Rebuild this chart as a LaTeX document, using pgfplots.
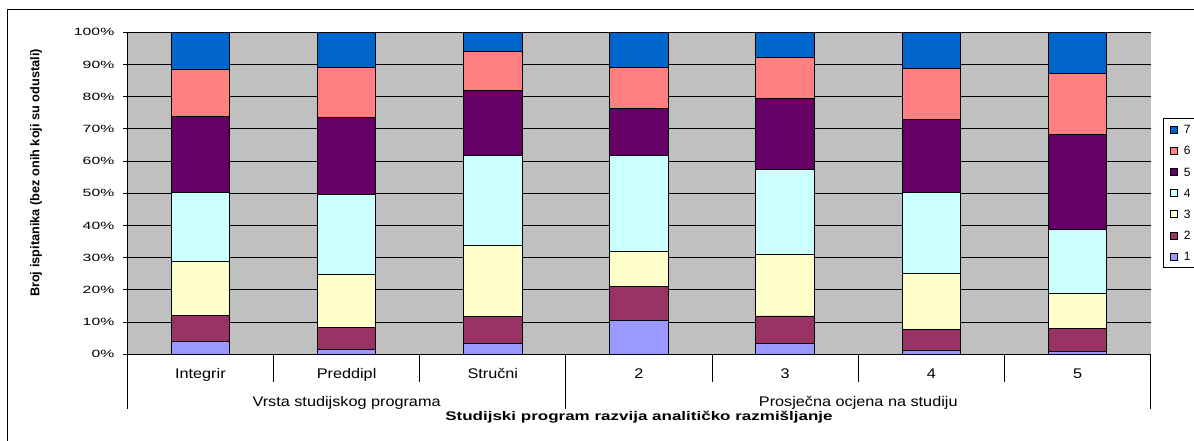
\documentclass[border=0pt]{standalone}
\usepackage{pgfplots}
\pgfplotsset{compat=1.18}
\usepackage{pgfplotstable}
\usepackage{fontspec}
\setmainfont{Liberation Sans}
\newfontfamily\tickfont[FakeStretch=1.5]{Liberation Sans}
\newfontfamily\catfont[FakeStretch=1.16]{Liberation Sans}
\newfontfamily\titlefont[FakeStretch=1.36]{Liberation Sans}
\definecolor{c1}{HTML}{9999FF}
\definecolor{c2}{HTML}{993366}
\definecolor{c3}{HTML}{FFFFCC}
\definecolor{c4}{HTML}{CCFFFF}
\definecolor{c5}{HTML}{660066}
\definecolor{c6}{HTML}{FF8080}
\definecolor{c7}{HTML}{0066CC}
\definecolor{bg}{HTML}{C0C0C0}

\pgfplotstableread{
x s1 s2 s3 s4 s5 s6 s7
0 4.0 8.1 16.7 21.5 23.6 14.6 11.5
1 1.5 6.9 16.3 25.0 23.9 15.5 10.9
2 3.4 8.4 21.9 27.9 20.4 11.9 6.1
3 10.6 10.6 10.7 29.7 14.8 12.7 10.9
4 3.4 8.5 19.2 26.4 22.0 12.8 7.7
5 1.1 6.5 17.5 25.2 22.7 15.8 11.2
6 0.8 7.3 10.9 19.8 29.5 19.0 12.7
}\datatable

\begin{document}
\begin{tikzpicture}[x=1pt,y=1pt]
\path[use as bounding box] (0,0) rectangle (1194,441);
\draw[line width=1pt] (7.3,-5) -- (7.3,431) -- (1200,431);
\begin{axis}[
  at={(127.3pt,86.7pt)}, anchor=south west,
  scale only axis, width=1023.4pt, height=322pt,
  ybar stacked, bar width=0.4,
  xmin=-0.5, xmax=6.5, ymin=0, ymax=100,
  clip=false,
  axis background/.style={fill=bg},
  axis x line*=bottom, axis y line*=left,
  x axis line style={-, line width=0.9pt},
  y axis line style={-, line width=0.9pt},
  xtick={0,...,6},
  xticklabels={Integrir,Preddipl,Stručni,2,3,4,5},
  xtick style={draw=none},
  xticklabel style={anchor=base, yshift=-19.5pt, font=\catfont\fontsize{14}{16}\selectfont},
  ytick={0,10,...,100},
  yticklabels={0\%,10\%,20\%,30\%,40\%,50\%,60\%,70\%,80\%,90\%,100\%},
  yticklabel style={font=\tickfont\fontsize{10.5}{12}\selectfont, xshift=-5pt},
  tick align=outside, major tick length=4.5pt,
  ytick style={black, line width=0.9pt},
  ymajorgrids, major grid style={black, line width=0.8pt},
  xlabel={Studijski program razvija analitičko razmišljanje},
  xlabel style={at={(rel axis cs:0.5,0)}, anchor=base, yshift=-66pt, font=\titlefont\bfseries\fontsize{12.5}{14}\selectfont},
  ylabel={Broj ispitanika (bez onih koji su odustali)},
  ylabel style={at={(rel axis cs:-0.0892,0.563)}, anchor=center, font=\bfseries\fontsize{12.75}{14}\selectfont},
  every axis plot/.append style={draw=black, line width=0.9pt},
  reverse legend,
  legend image code/.code={\draw[#1, line width=0.7pt] (0pt,-3.5pt) rectangle (7pt,3.5pt); \path (12pt,0pt);},
  legend cell align=left,
  legend style={at={(rel axis cs:1.0123,0.733)}, anchor=north west, draw=black, line width=0.8pt, fill=white,
    font=\fontsize{12}{13}\selectfont, inner xsep=6pt, inner ysep=5pt, row sep=9.6pt,
    nodes={inner sep=1.5pt, text height=8.6pt, text depth=0pt}},
]
\addplot[fill=c1] table[x=x,y=s1]{\datatable};
\addplot[fill=c2] table[x=x,y=s2]{\datatable};
\addplot[fill=c3] table[x=x,y=s3]{\datatable};
\addplot[fill=c4] table[x=x,y=s4]{\datatable};
\addplot[fill=c5] table[x=x,y=s5]{\datatable};
\addplot[fill=c6] table[x=x,y=s6]{\datatable};
\addplot[fill=c7] table[x=x,y=s7]{\datatable};
\legend{1,2,3,4,5,6,7}
\pgfplotsinvokeforeach{0.5,1.5,3.5,4.5,5.5}{\draw[line width=0.9pt] (axis cs:#1,0) -- ([yshift=-27.4pt]axis cs:#1,0);}
\pgfplotsinvokeforeach{-0.5,2.5,6.5}{\draw[line width=0.9pt] (axis cs:#1,0) -- ([yshift=-54.7pt]axis cs:#1,0);}
\node[anchor=base, font=\catfont\fontsize{14}{16}\selectfont] at ([yshift=-52.2pt]axis cs:1,0) {Vrsta studijskog programa};
\node[anchor=base, font=\catfont\fontsize{14}{16}\selectfont] at ([yshift=-52.2pt]axis cs:4.5,0) {Prosječna ocjena na studiju};
\end{axis}
\end{tikzpicture}
\end{document}
